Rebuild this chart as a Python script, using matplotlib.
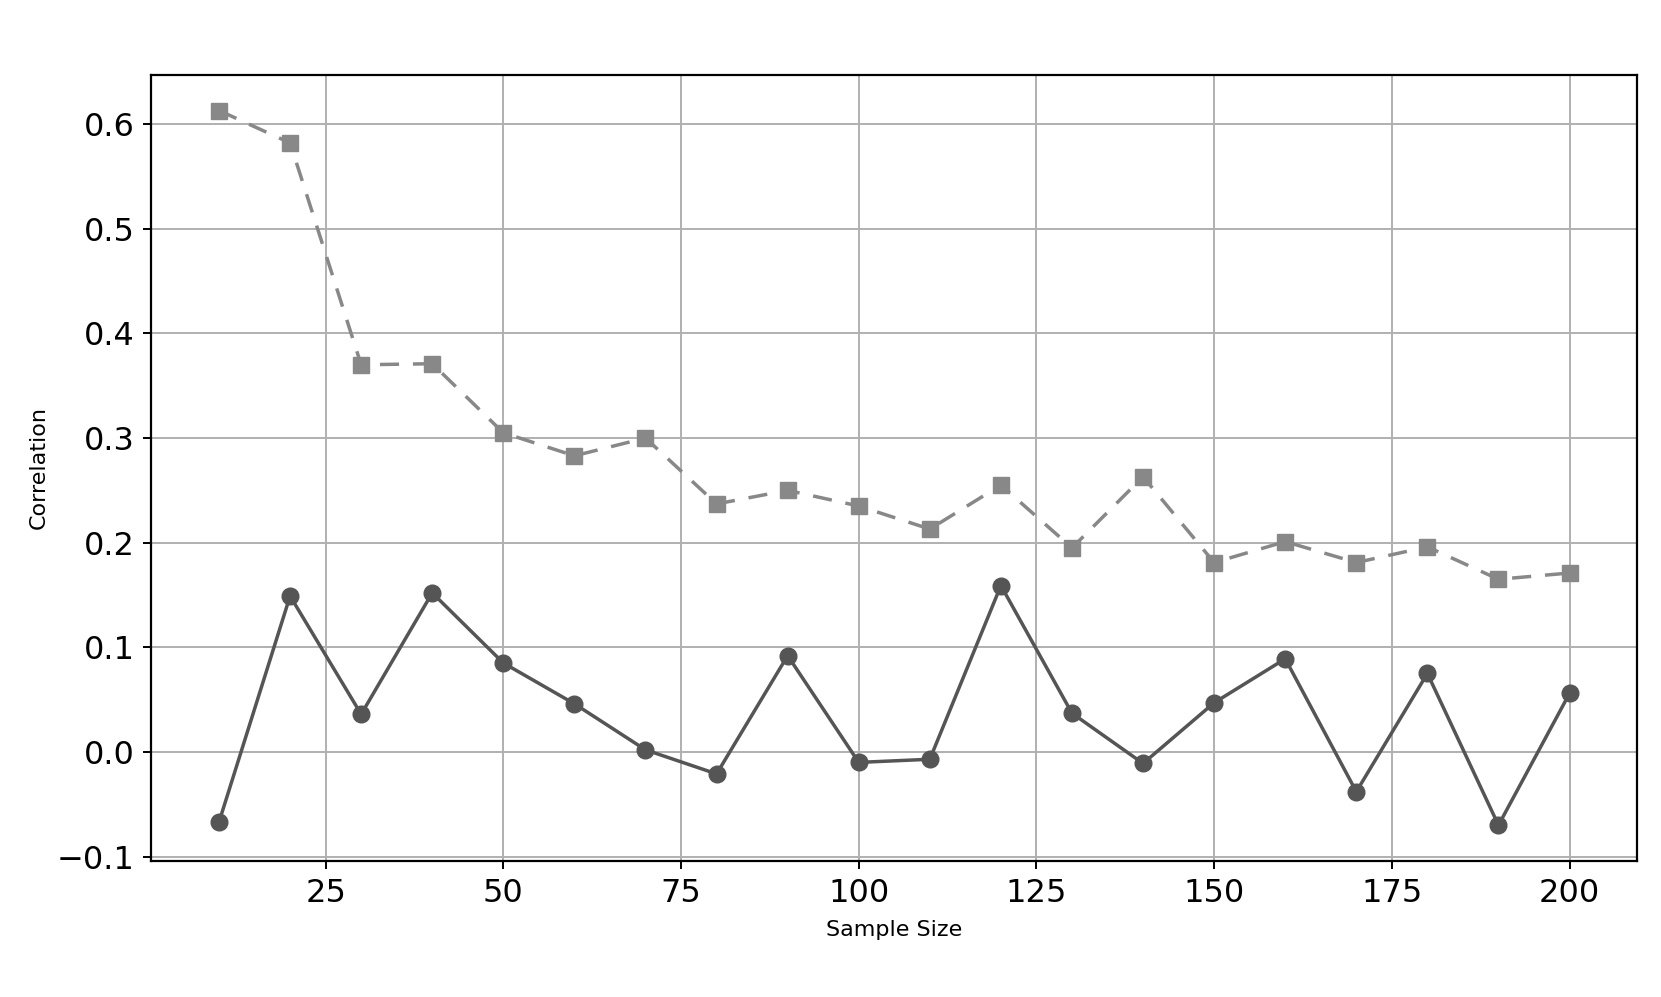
import matplotlib
matplotlib.use("Agg")
import matplotlib.pyplot as plt

# sample sizes
sample_size = [10, 20, 30, 40, 50, 60, 70, 80, 90, 100,
               110, 120, 130, 140, 150, 160, 170, 180, 190, 200]

# correlation, dashed grey squares
corr_squares = [0.613, 0.582, 0.370, 0.371, 0.305, 0.283, 0.300, 0.237, 0.250, 0.235,
                0.213, 0.255, 0.195, 0.263, 0.181, 0.201, 0.181, 0.196, 0.165, 0.171]

# correlation, solid dark circles
corr_circles = [-0.067, 0.149, 0.036, 0.152, 0.085, 0.046, 0.002, -0.021, 0.092, -0.010,
                -0.007, 0.159, 0.037, -0.011, 0.047, 0.089, -0.038, 0.075, -0.070, 0.056]

fig = plt.figure(figsize=(16.61, 9.97), dpi=100)
ax = fig.add_axes([0.0912, 0.1365, 0.8944, 0.7885])

ax.plot(sample_size, corr_squares, color='#888888', linestyle='--', marker='s',
        linewidth=2.5, markersize=11, dashes=(5.5, 4))
ax.plot(sample_size, corr_circles, color='#555555', linestyle='-', marker='o',
        linewidth=2.5, markersize=12)

ax.grid(True, color='#b0b0b0', linewidth=1.4)
ax.set_axisbelow(True)
ax.set_xlabel('Sample Size', fontsize=16, labelpad=8)
ax.set_ylabel('Correlation', fontsize=16, labelpad=6)
ax.tick_params(labelsize=23, length=6, width=1.4, pad=6)
for s in ax.spines.values():
    s.set_linewidth(1.6)

fig.savefig('out.png', dpi=100)
